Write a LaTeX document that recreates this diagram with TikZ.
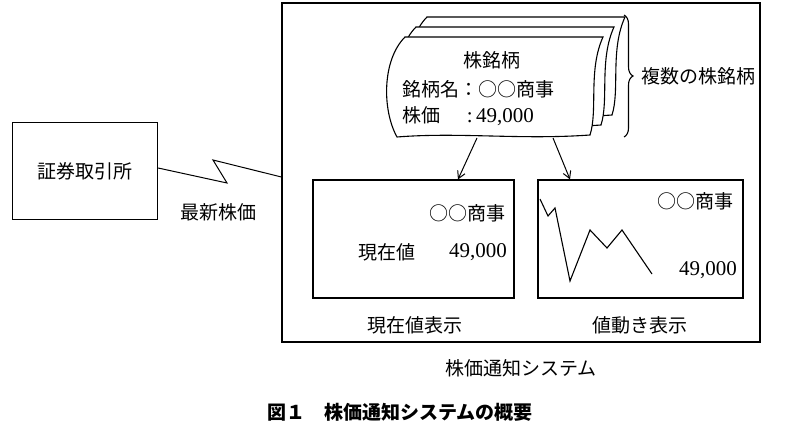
\documentclass[tikz,border=0pt]{standalone}
\usepackage{fontspec}
\setmainfont{Liberation Serif}
\newfontfamily\jp{Noto Sans CJK JP}
\usetikzlibrary{arrows.meta,decorations.pathreplacing}
\tikzset{box/.style={draw,line width=1.2pt},
 lbl/.style={font=\fontsize{19}{21}\selectfont\jp,inner sep=0pt},
 num/.style={font=\fontsize{21}{22}\selectfont,inner sep=0pt},
 arr/.style={line width=1pt,-{Straight Barb[length=7pt,width=8pt]}},
 sheet/.style={draw,fill=white,line width=1.1pt}}
\newcommand{\sheetpath}[2]{%
 \draw[sheet,shift={(#1,#2)}] (405,37) -- (603,37) .. controls (588,70) and (598,110) .. (590,135)
   .. controls (520,140) and (460,132) .. (397,137) .. controls (382,110) and (382,60) .. (405,37) -- cycle;}
\begin{document}
\begin{tikzpicture}[x=1pt,y=-1pt]
\useasboundingbox (0,0) rectangle (800,435);
\node[box,minimum width=145pt,minimum height=97pt] (ex) at (85,171) {};
\node[lbl] (exl) at (ex) {証券取引所};
\node[box,minimum width=478pt,minimum height=339pt] (sys) at (521,172.5) {};
\coordinate (z1) at (227,183); \coordinate (z2) at (213,160);
\draw[line width=1pt] (ex.east |- 0,168) -- (z1) -- (z2) -- (sys.west |- 0,177);
\node[lbl] (new) at (218,212) {最新株価};
\sheetpath{22}{-20}
\sheetpath{11}{-10}
\sheetpath{0}{0}
\node[lbl] (t1) at (492,60) {株銘柄};
\node[lbl,anchor=west] (t2) at (402,89) {銘柄名：○○商事};
\node[lbl,anchor=west] (t3) at (402,116) {株価\hspace{1.4em}{\rmfamily\fontsize{21}{22}\selectfont :\,49,000}};
\draw[line width=1.1pt,decorate,decoration={brace,amplitude=9pt}] (624,15) -- (624,137) coordinate[midway] (br);
\node[lbl,anchor=west] (multi) at (641,76) {複数の株銘柄};
\node[box,minimum width=201pt,minimum height=118pt] (b1) at (413.5,239) {};
\node[box,minimum width=205pt,minimum height=118pt] (b2) at (640.5,239) {};
\coordinate (a1) at (477,138); \coordinate (a2) at (553,138);
\draw[arr] (a1) -- (b1.north -| 458,0);
\draw[arr] (a2) -- (b2.north -| 570,0);
\node[lbl,anchor=east] (c1) at (506,213) {○○商事};
\node[lbl,anchor=west] (v1) at (358,252) {現在値};
\node[num,anchor=east] (v1n) at (507,252) {49,000};
\node[lbl,anchor=east] (c2) at (734,201) {○○商事};
\node[num,anchor=east] (v2) at (737,270) {49,000};
\draw[line width=1.1pt] (540,199)--(548,216)--(555,208)--(570,281)--(590,230)--(607,248)--(622,230)--(652,274);
\node[lbl] (l1) at (415,325) {現在値表示};
\node[lbl] (l2) at (640,325) {値動き表示};
\node[lbl] (l3) at (521,368) {株価通知システム};
\node[lbl,font=\fontsize{19}{21}\selectfont\jp\bfseries] (cap) at (400,412) {図１\hspace{1em}株価通知システムの概要};
\end{tikzpicture}
\end{document}
